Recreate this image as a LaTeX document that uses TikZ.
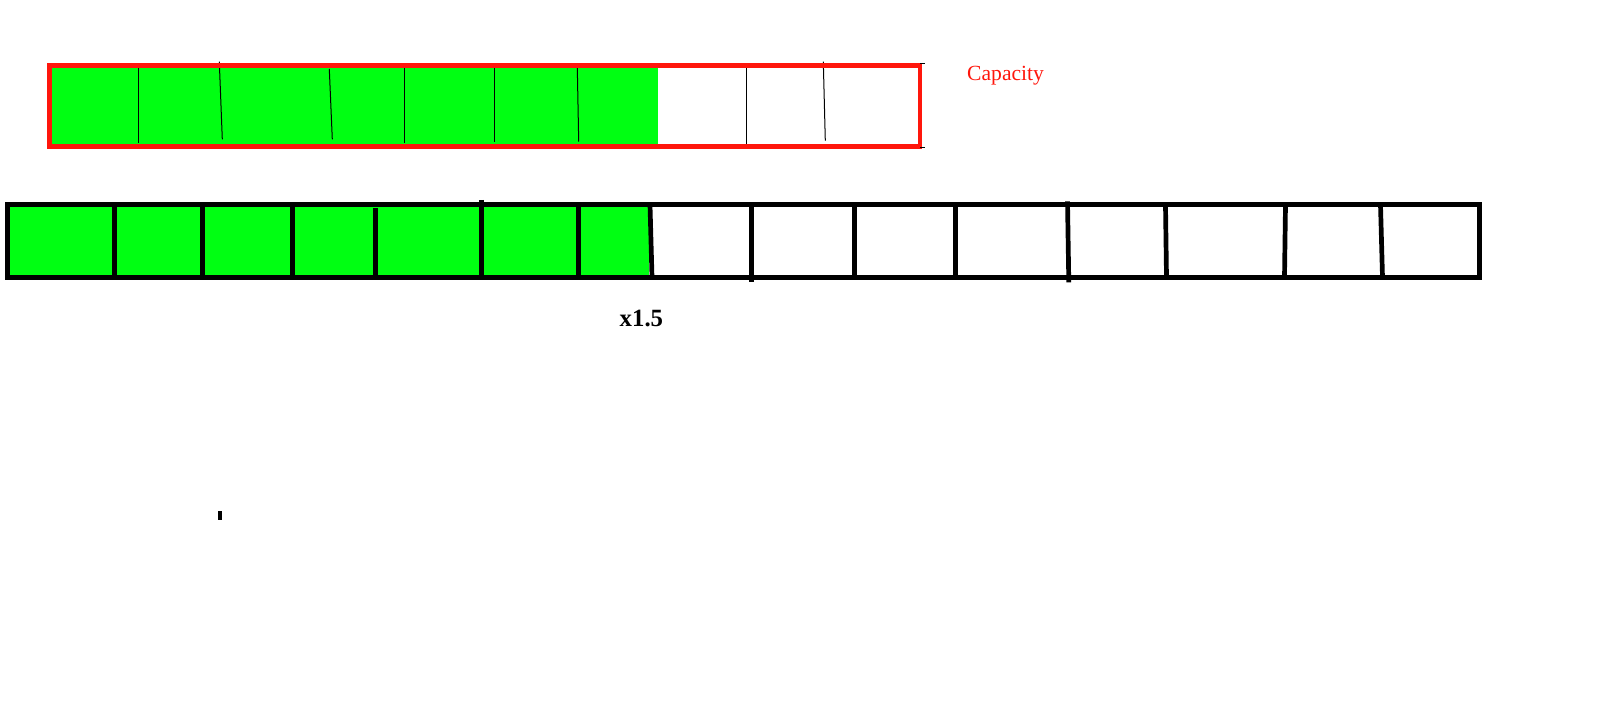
\documentclass[tikz,border=0pt]{standalone}
\usepackage{fontspec}
\setmainfont{Liberation Serif}
\usepackage{xcolor}
\definecolor{capred}{RGB}{255, 22, 12}
\definecolor{usedgreen}{RGB}{0, 255, 18}
\usepackage{tikz}
\usetikzlibrary{calc, positioning}

\begin{document}
\begin{tikzpicture}[x=1pt, y=-1pt,
		thindiv/.style={black, line width=1pt},
		thickdiv/.style={black, line width=4.7pt},
		label/.style={inner sep=0pt, anchor=base west}]
	
	\useasboundingbox (0,0) rectangle (1607,703);
	
	\begin{scope}
		% old array, capacity
		\fill[usedgreen] (52,67.7) rectangle (657.7,144);
		
		\foreach \xt/\xb/\yt/\yb in {138.3/138.3/67.7/143, 219.3/222.3/61.7/139.3, 329.3/332.3/69/139.3, 404.3/404.3/67.7/142.7, 494.3/494.3/67.7/141.7, 577.3/578.7/67.7/141.7, 746.3/746.3/67.7/144, 823.3/825.3/61.7/140.7} {
			\draw[thindiv] (\xt,\yt) -- (\xb,\yb);
		}
		
		\draw[capred, line width=4.5pt] (49.5,65.5) rectangle (920,146.5);
		\draw[thindiv] (920,63.5) -- (925,63.5);
		\draw[thindiv] (920,147.7) -- (925,147.7);
		
		\node[label, text=capred, font=\fontsize{21.6}{24}\selectfont] (capacity) at (967,81) {Capacity};
	\end{scope}
	
	\begin{scope}
		% new array after growth
		\fill[usedgreen] (10,207) rectangle (649,275);
		
		\foreach \xt/\xb/\yt/\yb in {114.3/114.3/204.7/277.3, 202.3/202.3/204.7/277.3, 292.3/292.3/204.7/277.3, 375.5/375.5/208.3/280, 481.3/481.3/200/277.3, 578.3/578.3/204.7/277.3, 650/652/204.7/277.3, 751.3/751.3/204.7/282, 854.7/854.7/204.7/277.3, 955.7/955.7/204.7/277.3, 1067.5/1068.8/201.3/282.3, 1165.5/1166.5/204.7/277.3, 1285.5/1284.5/204.7/277.3, 1380.5/1382.5/204.7/277.3} {
			\draw[thickdiv] (\xt,\yt) -- (\xb,\yb);
		}
		
		\draw[black, line width=4.7pt] (7.5,204.7) rectangle (1479.3,277.3);
		
		\node[label, font=\bfseries\fontsize{24.8}{27}\selectfont] (factor) at (619.5,326.7) {x1.5};
	\end{scope}
	
	% stray mark
	\fill[black] (218,511) rectangle (222,519.7);
	
\end{tikzpicture}
\end{document}
